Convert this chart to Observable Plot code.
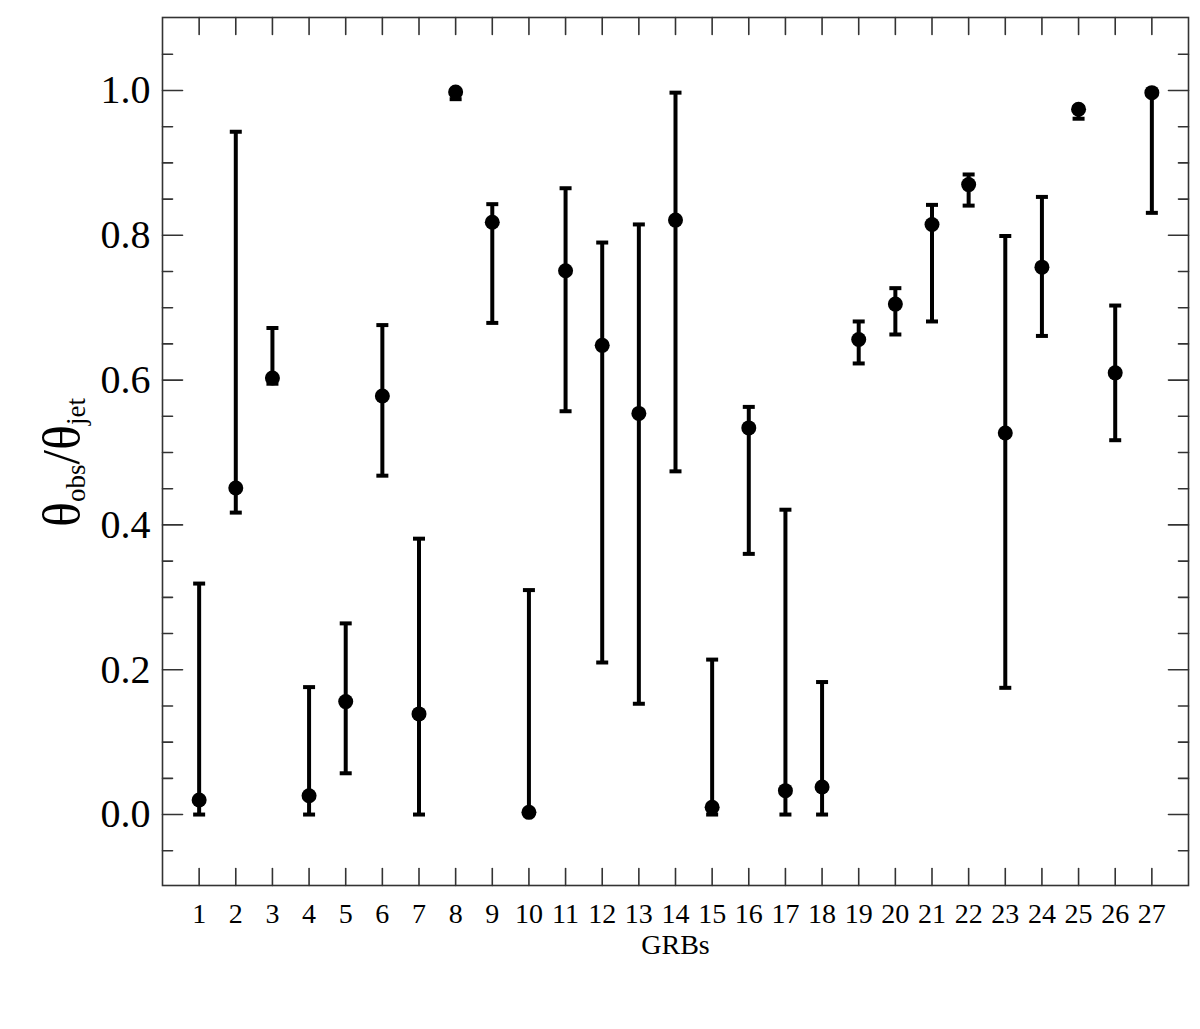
<!DOCTYPE html>
<html><head><meta charset="utf-8">
<script src="https://cdn.jsdelivr.net/npm/d3@7"></script>
<script src="https://cdn.jsdelivr.net/npm/@observablehq/plot@0.6"></script>
<style>body{margin:0;background:#fff}</style>
</head><body><div id="chart"></div>
<script>
const grb = [1,2,3,4,5,6,7,8,9,10,11,12,13,14,15,16,17,18,19,20,21,22,23,24,25,26,27];
const theta = [0.020,0.451,0.603,0.026,0.156,0.578,0.139,0.998,0.818,0.003,0.751,0.648,0.554,0.821,0.010,0.534,0.033,0.038,0.656,0.705,0.815,0.870,0.527,0.756,0.974,0.610,0.997];
const lower = [0.000,0.417,0.595,0.000,0.057,0.468,0.000,0.988,0.679,0.000,0.557,0.210,0.153,0.474,0.000,0.360,0.000,0.000,0.623,0.663,0.681,0.841,0.175,0.661,0.961,0.517,0.831];
const upper = [0.319,0.943,0.672,0.176,0.264,0.676,0.381,1.000,0.843,0.310,0.865,0.790,0.815,0.997,0.214,0.563,0.421,0.183,0.681,0.727,0.842,0.884,0.799,0.853,0.977,0.703,0.998];
const xTicks = [1,2,3,4,5,6,7,8,9,10,11,12,13,14,15,16,17,18,19,20,21,22,23,24,25,26,27];
const yMajorTicks = [0,0.2,0.4,0.6,0.8,1.0];
const yMinorTicks = [-0.05,0.05,0.1,0.15,0.25,0.3,0.35,0.45,0.5,0.55,0.65,0.7,0.75,0.85,0.9,0.95,1.05];
const xLabel = "GRBs";
const yLabel = "θobs/θjet";

const data = grb.map((g, i) => ({grb: g, value: theta[i], lo: lower[i], hi: upper[i]}));

const lineShape = {draw(context, l) { context.moveTo(0, 0); context.lineTo(0, -l); }};
const capSymbol = {draw(context, size) { const w = Math.sqrt(size / Math.PI); context.moveTo(-w, 0); context.lineTo(w, 0); }};
const axisInk = "#333";
const tickStyle = {stroke: axisInk, strokeWidth: 1.6, anchor: "start", shape: lineShape};

const chart = Plot.plot({
  width: 1200, height: 1029,
  marginLeft: 162, marginRight: 12, marginTop: 17, marginBottom: 144,
  style: {fontFamily: "'Liberation Serif', 'Times New Roman', serif", background: "#fff", color: "#000"},
  x: {domain: [0, 28], axis: null},
  y: {domain: [-0.098, 1.1008], axis: null},
  marks: [
    Plot.frame({stroke: axisInk, strokeWidth: 1.6}),
    Plot.vector(yMajorTicks, {y: d => d, frameAnchor: "left", rotate: 90, length: 20, ...tickStyle}),
    Plot.vector(yMinorTicks, {y: d => d, frameAnchor: "left", rotate: 90, length: 10, ...tickStyle}),
    Plot.vector(yMajorTicks, {y: d => d, frameAnchor: "right", rotate: -90, length: 20, ...tickStyle}),
    Plot.vector(yMinorTicks, {y: d => d, frameAnchor: "right", rotate: -90, length: 10, ...tickStyle}),
    Plot.vector(xTicks, {x: d => d, frameAnchor: "bottom", rotate: 0, length: 17, ...tickStyle}),
    Plot.vector(xTicks, {x: d => d, frameAnchor: "top", rotate: 180, length: 17, ...tickStyle}),
    Plot.text(yMajorTicks, {y: d => d, frameAnchor: "left", dx: -12, textAnchor: "end", text: d => d.toFixed(1), fontSize: 40, fill: "#000"}),
    Plot.text(xTicks, {x: d => d, frameAnchor: "bottom", dy: 18, lineAnchor: "top", text: d => String(d), fontSize: 28, fill: "#000"}),
    Plot.text([xLabel], {frameAnchor: "bottom", dy: 49, lineAnchor: "top", text: d => d, fontSize: 28, fill: "#000"}),
    Plot.text([yLabel], {frameAnchor: "left", dx: -100, dy: 11, rotate: -90, textAnchor: "middle", text: d => d, fontSize: 52, fill: "#000"}),
    Plot.ruleX(data, {x: "grb", y1: "lo", y2: "hi", stroke: "#000", strokeWidth: 4}),
    Plot.dot(data, {x: "grb", y: "lo", symbol: capSymbol, r: 6, stroke: "#000", strokeWidth: 4}),
    Plot.dot(data, {x: "grb", y: "hi", symbol: capSymbol, r: 6, stroke: "#000", strokeWidth: 4}),
    Plot.dot(data, {x: "grb", y: "value", r: 7.5, fill: "#000", stroke: "none"})
  ]
});

// Turn the y title into θ with subscripts
chart.querySelectorAll("text").forEach(t => {
  if (t.textContent === yLabel) {
    t.textContent = "";
    const parts = [["θ", null], ["obs", "sub"], ["/θ", "up"], ["jet", "sub"]];
    const ns = "http://www.w3.org/2000/svg";
    parts.forEach(([s, kind]) => {
      const sp = document.createElementNS(ns, "tspan");
      sp.textContent = s;
      if (kind === "sub") { sp.setAttribute("font-size", "27"); sp.setAttribute("dy", "6"); }
      if (kind === "up") { sp.setAttribute("dy", "-6"); }
      t.appendChild(sp);
    });
  }
});

document.getElementById("chart").appendChild(chart);
</script>
</body></html>
